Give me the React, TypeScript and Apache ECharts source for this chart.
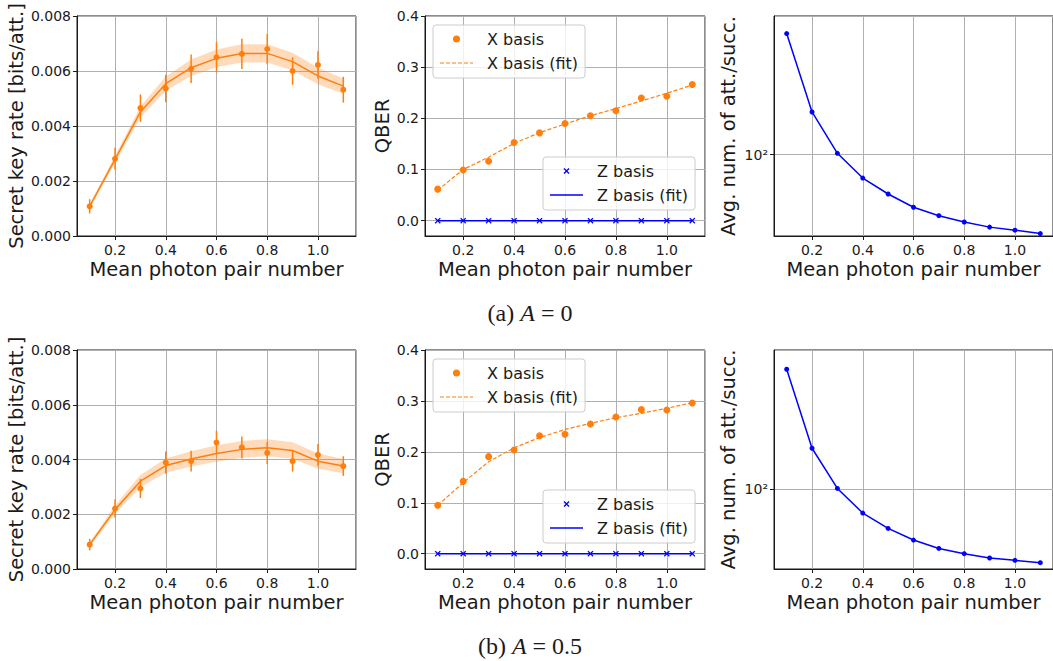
import { useEffect, useRef } from 'react';
import * as echarts from 'echarts';

// ---------- data ----------
const mu = [0.1, 0.2, 0.3, 0.4, 0.5, 0.6, 0.7, 0.8, 0.9, 1.0, 1.1];
const xTickLabels = ['0.2', '0.4', '0.6', '0.8', '1.0'];

// (a) A = 0
const skrA = [0.00108, 0.00281, 0.00465, 0.00536, 0.00608, 0.0065, 0.00662, 0.0068, 0.006, 0.00622, 0.00532];
const skrErrA = [0.00026, 0.0004, 0.0005, 0.0005, 0.00052, 0.00055, 0.00055, 0.00055, 0.0005, 0.0005, 0.00047];
const skrFitA = [0.00108, 0.00279, 0.00451, 0.00554, 0.00612, 0.00646, 0.00664, 0.00664, 0.00634, 0.00582, 0.00545];
const skrBandA = [0.00008, 0.00013, 0.0002, 0.00026, 0.0003, 0.00032, 0.00033, 0.00033, 0.00032, 0.0003, 0.00028];
const qberXA = [0.0616, 0.099, 0.116, 0.1526, 0.1716, 0.19, 0.205, 0.2148, 0.2397, 0.243, 0.266];
const qberXFitA = [0.0596, 0.1, 0.124, 0.151, 0.172, 0.189, 0.205, 0.219, 0.234, 0.249, 0.265];
const qberZA = [0, 0, 0, 0, 0, 0, 0, 0, 0, 0, 0];
const qberZFitA = [0, 0, 0, 0, 0, 0, 0, 0, 0, 0, 0];
const attemptsA = [618, 190, 102, 70.3, 55.3, 45.3, 39.9, 36.3, 33.6, 32.1, 30.5];

// (b) A = 0.5
const skrB = [0.00089, 0.00221, 0.00294, 0.00389, 0.00394, 0.00462, 0.00444, 0.00424, 0.00394, 0.00417, 0.00376];
const skrErrB = [0.00021, 0.00034, 0.00035, 0.0004, 0.00038, 0.00043, 0.0004, 0.0004, 0.00038, 0.0004, 0.00036];
const skrFitB = [0.00089, 0.00217, 0.00321, 0.00378, 0.00402, 0.00422, 0.00437, 0.00443, 0.00433, 0.00394, 0.00376];
const skrBandB = [0.00008, 0.00015, 0.00022, 0.00026, 0.00028, 0.0003, 0.00031, 0.00031, 0.0003, 0.00028, 0.00026];
const qberXB = [0.095, 0.142, 0.1906, 0.2037, 0.2318, 0.2344, 0.2547, 0.2685, 0.2829, 0.2823, 0.296];
const qberXFitB = [0.095, 0.1395, 0.1807, 0.208, 0.228, 0.244, 0.256, 0.267, 0.2757, 0.2855, 0.2967];
const qberZB = [0, 0, 0, 0, 0, 0, 0, 0, 0, 0, 0];
const qberZFitB = [0, 0, 0, 0, 0, 0, 0, 0, 0, 0, 0];
const attemptsB = [608, 185, 101, 69.7, 55.3, 46.4, 40.9, 37.8, 35.4, 34.2, 33];

const captionLabels = ['(a)', '(b)'];
const captionValues = ['0', '0.5'];

// axis limits
const muLimits = [0.05, 1.15];
const skrLimits = [0, 0.008];
const qberLimits = [-0.03, 0.4];
const attLimitsA = [29.4, 805];
const attLimitsB = [30, 813];

// ---------- styles ----------
const FONT = 'DejaVu Sans';
const ORANGE = '#ff7f0e';
const BLUE = '#0000ff';
const INK = '#1a1a1a';
const TICK_FS = 14;
const NAME_FS = 19.5;

const legendCircle = 'path://M0,0M33,14M20,7A3.5,3.5,0,1,1,13,7A3.5,3.5,0,1,1,20,7Z';
const legendDashed =
  'path://M0,0M33,14M0,6.4h4v1.2h-4ZM6,6.4h4v1.2h-4ZM12,6.4h4v1.2h-4ZM18,6.4h4v1.2h-4ZM24,6.4h4v1.2h-4ZM30,6.4h3v1.2h-3Z';
const legendCross =
  'path://M0,0M33,14M13.5,4.9L14.4,4L16.5,6.1L18.6,4L19.5,4.9L17.4,7L19.5,9.1L18.6,10L16.5,7.9L14.4,10L13.5,9.1L15.6,7Z';
const legendSolid = 'path://M0,0M33,14M0,6.25h33v1.5h-33Z';
const crossSymbol = 'path://M0,1.5L1.5,0L5,3.5L8.5,0L10,1.5L6.5,5L10,8.5L8.5,10L5,6.5L1.5,10L0,8.5L3.5,5Z';

export default function App() {
  const ref = useRef<HTMLDivElement>(null);

  useEffect(() => {
    document.body.style.margin = '0';
    if (!ref.current) return;
    const chart = echarts.init(ref.current, undefined, { renderer: 'svg' });

    const rows = [
      {
        top: 16, height: 220, skr: skrA, err: skrErrA, fit: skrFitA, band: skrBandA,
        qx: qberXA, qxf: qberXFitA, qz: qberZA, qzf: qberZFitA, att: attemptsA, attLim: attLimitsA,
        legendTops: [25, 157], captionY: 313,
      },
      {
        top: 350, height: 219, skr: skrB, err: skrErrB, fit: skrFitB, band: skrBandB,
        qx: qberXB, qxf: qberXFitB, qz: qberZB, qzf: qberZFitB, att: attemptsB, attLim: attLimitsB,
        legendTops: [359, 490], captionY: 646,
      },
    ];
    const cols = [
      { left: 77, width: 279 },
      { left: 425, width: 280 },
      { left: 774, width: 280 },
    ];

    const grids: any[] = [];
    const xAxes: any[] = [];
    const yAxes: any[] = [];
    const series: any[] = [];
    const legends: any[] = [];
    const graphics: any[] = [];

    const axisCommon = {
      axisLine: { show: true, onZero: false, lineStyle: { color: INK, width: 1 } },
      axisTick: { show: true, inside: false, length: 4, lineStyle: { color: INK, width: 1 } },
      splitLine: { show: true, lineStyle: { color: '#b0b0b0', width: 1 } },
      nameTextStyle: { fontSize: NAME_FS, fontFamily: FONT, color: INK },
      nameLocation: 'middle',
    };

    rows.forEach((row, r) => {
      cols.forEach((col, c) => {
        const gi = r * 3 + c;
        grids.push({
          left: col.left, top: row.top, width: col.width, height: row.height,
          show: true, borderColor: INK, borderWidth: 1, backgroundColor: 'transparent',
          containLabel: false,
        });
        xAxes.push({
          ...axisCommon,
          type: 'value', gridIndex: gi, min: muLimits[0], max: muLimits[1],
          name: 'Mean photon pair number', nameGap: 23,
          axisLabel: {
            color: INK, fontSize: TICK_FS, fontFamily: FONT, margin: 7,
            showMinLabel: false, showMaxLabel: false,
            formatter: (v: number) => {
              const s = v.toFixed(1);
              return xTickLabels.includes(s) && Math.abs(v * 5 - Math.round(v * 5)) < 1e-6 ? s : '';
            },
          },
        });
        if (c === 0) {
          yAxes.push({
            ...axisCommon,
            type: 'value', gridIndex: gi, min: skrLimits[0], max: skrLimits[1], interval: 0.002,
            name: 'Secret key rate [bits/att.]', nameGap: 51,
            axisLabel: { color: INK, fontSize: TICK_FS, fontFamily: FONT, margin: 6, formatter: (v: number) => v.toFixed(3) },
          });
        } else if (c === 1) {
          yAxes.push({
            ...axisCommon,
            type: 'value', gridIndex: gi, min: qberLimits[0], max: qberLimits[1],
            name: 'QBER', nameGap: 31,
            axisLabel: {
              color: INK, fontSize: TICK_FS, fontFamily: FONT, margin: 6, showMinLabel: false,
              formatter: (v: number) => (v < -0.001 ? '' : v.toFixed(1)),
            },
          });
        } else {
          yAxes.push({
            ...axisCommon,
            type: 'log', logBase: 10, gridIndex: gi, min: row.attLim[0], max: row.attLim[1],
            name: 'Avg. num. of att./succ.', nameGap: 36,
            axisLabel: {
              color: INK, fontSize: TICK_FS, fontFamily: FONT, margin: 6, showMinLabel: false, showMaxLabel: false,
              formatter: (v: number) => (Math.abs(v - 100) < 1e-3 ? '10²' : ''),
            },
          });
        }
      });

      const g0 = r * 3, g1 = r * 3 + 1, g2 = r * 3 + 2;

      // ---- secret key rate panel ----
      series.push({
        type: 'custom', name: 'band-' + r, xAxisIndex: g0, yAxisIndex: g0, z: 1, silent: true,
        data: mu.map((x, i) => [x, row.fit[i] - row.band[i], row.fit[i] + row.band[i]]),
        encode: { x: 0, y: [1, 2] },
        renderItem: (params: any, api: any) => {
          if (params.dataIndexInside !== 0) return null;
          const n = params.dataInsideLength;
          const upper: number[][] = [];
          const lower: number[][] = [];
          for (let i = 0; i < n; i++) {
            const x = api.value(0, i);
            lower.push(api.coord([x, api.value(1, i)]));
            upper.push(api.coord([x, api.value(2, i)]));
          }
          return {
            type: 'polygon',
            shape: { points: lower.concat(upper.reverse()) },
            style: { fill: 'rgba(255,127,14,0.28)' },
          };
        },
      });
      series.push({
        type: 'line', name: 'skr-fit-' + r, xAxisIndex: g0, yAxisIndex: g0,
        data: mu.map((x, i) => [x, row.fit[i]]),
        symbol: 'none', lineStyle: { color: ORANGE, width: 1.5 }, z: 2,
      });
      series.push({
        type: 'custom', name: 'skr-' + r, xAxisIndex: g0, yAxisIndex: g0, z: 3,
        data: mu.map((x, i) => [x, row.skr[i], row.err[i]]),
        encode: { x: 0, y: 1 },
        renderItem: (_p: any, api: any) => {
          const x = api.value(0), y = api.value(1), e = api.value(2);
          const p = api.coord([x, y]);
          const lo = api.coord([x, y - e]);
          const hi = api.coord([x, y + e]);
          return {
            type: 'group',
            children: [
              { type: 'line', shape: { x1: lo[0], y1: lo[1], x2: hi[0], y2: hi[1] }, style: { stroke: ORANGE, lineWidth: 1.5 } },
              { type: 'circle', shape: { cx: p[0], cy: p[1], r: 3 }, style: { fill: ORANGE } },
            ],
          };
        },
      });

      // ---- QBER panel ----
      series.push({
        type: 'line', name: 'X basis (fit)', xAxisIndex: g1, yAxisIndex: g1,
        data: mu.map((x, i) => [x, row.qxf[i]]),
        symbol: 'none', itemStyle: { color: ORANGE }, lineStyle: { color: ORANGE, width: 1.2, type: [4, 2] }, z: 2,
      });
      series.push({
        type: 'scatter', name: 'X basis', xAxisIndex: g1, yAxisIndex: g1,
        data: mu.map((x, i) => [x, row.qx[i]]),
        symbol: 'circle', symbolSize: 7, itemStyle: { color: ORANGE, opacity: 1 }, z: 3,
      });
      series.push({
        type: 'line', name: 'Z basis (fit)', xAxisIndex: g1, yAxisIndex: g1,
        data: mu.map((x, i) => [x, row.qzf[i]]),
        symbol: 'none', itemStyle: { color: BLUE }, lineStyle: { color: BLUE, width: 1.5 }, z: 2,
      });
      series.push({
        type: 'scatter', name: 'Z basis', xAxisIndex: g1, yAxisIndex: g1,
        data: mu.map((x, i) => [x, row.qz[i]]),
        symbol: crossSymbol, symbolSize: 6, itemStyle: { color: BLUE, opacity: 1 }, z: 4,
      });

      // ---- attempts panel ----
      series.push({
        type: 'line', name: 'attempts-' + r, xAxisIndex: g2, yAxisIndex: g2,
        data: mu.map((x, i) => [x, row.att[i]]),
        symbol: 'circle', symbolSize: 5, showAllSymbol: true,
        itemStyle: { color: BLUE }, lineStyle: { color: BLUE, width: 1.5 }, z: 2,
      });

      const legendCommon = {
        left: 433, orient: 'vertical', itemWidth: 33, itemHeight: 14, itemGap: 8,
        padding: [6, 7, 7, 7], backgroundColor: 'rgba(255,255,255,0.8)',
        borderColor: '#cccccc', borderWidth: 1, borderRadius: 3, selectedMode: false,
        textStyle: { fontSize: 16, fontFamily: FONT, color: INK, padding: [0, 0, 0, 9] },
      };
      legends.push({
        ...legendCommon, top: row.legendTops[0],
        data: [
          { name: 'X basis', icon: legendCircle },
          { name: 'X basis (fit)', icon: legendDashed },
        ],
      });
      legends.push({
        ...legendCommon, left: 543, top: row.legendTops[1],
        data: [
          { name: 'Z basis', icon: legendCross },
          { name: 'Z basis (fit)', icon: legendSolid },
        ],
      });

      graphics.push({
        type: 'text', x: 530, y: row.captionY,
        style: {
          text: captionLabels[r] + ' {i|A} = ' + captionValues[r],
          fontFamily: 'Liberation Serif', fontSize: 24, fill: INK,
          textAlign: 'center', textVerticalAlign: 'middle',
          rich: { i: { fontFamily: 'Liberation Serif', fontSize: 24, fontStyle: 'italic', fill: INK } },
        },
      });
    });

    chart.setOption({
      animation: false,
      backgroundColor: '#ffffff',
      grid: grids,
      xAxis: xAxes,
      yAxis: yAxes,
      legend: legends,
      series,
      graphic: graphics,
    });

    return () => chart.dispose();
  }, []);

  return <div ref={ref} style={{ width: 1053, height: 661 }} />;
}
